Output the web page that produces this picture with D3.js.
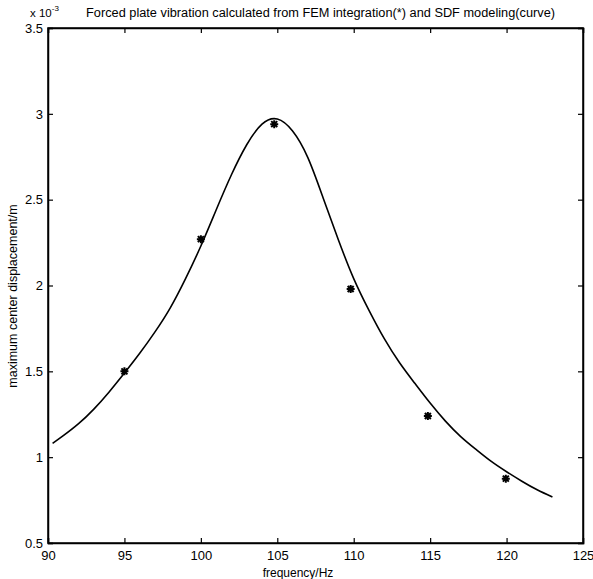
<!DOCTYPE html>
<html>
<head>
<meta charset="utf-8">
<script src="https://cdn.jsdelivr.net/npm/d3@7"></script>
<style>
  body { margin: 0; background: #fff; }
  svg { display: block; font-family: "Liberation Sans", Arial, sans-serif; }
</style>
</head>
<body>
<div id="chart"></div>
<script>
// FEM points (*), displacement in units of 1e-3 m
var femFreq = [95, 100, 104.8, 109.8, 114.85, 119.95];
var femDisp = [1.50, 2.27, 2.94, 1.98, 1.24, 0.875];

// SDF model curve
var curveFreq = [90.3, 91, 92, 93, 94, 95, 96, 97, 98, 99, 100, 101, 102, 103, 104,
                 105, 106, 107, 108, 109, 110, 111, 112, 113, 114, 115, 116, 117, 118,
                 119, 120, 121, 122, 123];
var curveDisp = [1.08, 1.125, 1.195, 1.28, 1.38, 1.49, 1.605, 1.73, 1.87, 2.04, 2.23,
                 2.44, 2.645, 2.82, 2.94, 2.97, 2.90, 2.745, 2.51, 2.265, 2.04, 1.855,
                 1.69, 1.55, 1.43, 1.315, 1.21, 1.12, 1.045, 0.975, 0.915, 0.86, 0.81, 0.768];

var xTicks = [90, 95, 100, 105, 110, 115, 120, 125];
var yTicks = [0.5, 1, 1.5, 2, 2.5, 3, 3.5];

var W = 593, H = 579;
var margin = {left: 48, right: 10, top: 28, bottom: 36};

var svg = d3.select("#chart").append("svg")
    .attr("width", W)
    .attr("height", H);

var x = d3.scaleLinear().domain([90, 125]).range([margin.left, W - margin.right]);
var y = d3.scaleLinear().domain([0.5, 3.5]).range([H - margin.bottom, margin.top]);

var x0 = x.range()[0], x1 = x.range()[1], y0 = y.range()[0], y1 = y.range()[1];

// ticks inward on all four sides, matlab style
svg.append("g").attr("transform", "translate(0," + y0 + ")")
    .call(d3.axisBottom(x).tickValues(xTicks).tickSize(-5).tickPadding(8).tickFormat(d3.format("d")));
svg.append("g").attr("transform", "translate(0," + y1 + ")")
    .call(d3.axisTop(x).tickValues(xTicks).tickSize(-5).tickFormat(""));
svg.append("g").attr("transform", "translate(" + x0 + ",0)")
    .call(d3.axisLeft(y).tickValues(yTicks).tickSize(-5).tickPadding(5).tickFormat(function(d) { return String(d); }));
svg.append("g").attr("transform", "translate(" + x1 + ",0)")
    .call(d3.axisRight(y).tickValues(yTicks).tickSize(-5).tickFormat(""));

svg.selectAll(".domain").attr("stroke", "#000").attr("stroke-width", 1.5);
svg.selectAll(".tick line").attr("stroke", "#000").attr("stroke-width", 1.2);
svg.selectAll(".tick text")
    .attr("fill", "#000")
    .style("font-size", "13px")
    .style("font-family", "Liberation Sans, Arial, sans-serif");

// box
svg.append("rect")
    .attr("x", x0).attr("y", y1)
    .attr("width", x1 - x0).attr("height", y0 - y1)
    .attr("fill", "none").attr("stroke", "#000").attr("stroke-width", 1.5);

// curve
var pts = curveFreq.map(function(f, i) { return [f, curveDisp[i]]; });
var line = d3.line()
    .x(function(d) { return x(d[0]); })
    .y(function(d) { return y(d[1]); })
    .curve(d3.curveNatural);

svg.append("path")
    .datum(pts)
    .attr("d", line)
    .attr("fill", "none")
    .attr("stroke", "#000")
    .attr("stroke-width", 1.6);

// star markers
var fem = femFreq.map(function(f, i) { return {f: f, v: femDisp[i]}; });
var star = svg.append("g").selectAll("g")
    .data(fem)
    .enter().append("g")
    .attr("transform", function(d) { return "translate(" + x(d.f) + "," + y(d.v) + ")"; });
star.append("path")
    .attr("d", "M-4,0H4M0,-4V4M-3,-3L3,3M-3,3L3,-3")
    .attr("stroke", "#000")
    .attr("stroke-width", 2);

// exponent label
var ex = svg.append("text")
    .attr("x", 30).attr("y", 17)
    .style("font-size", "11.5px")
    .attr("fill", "#000");
ex.append("tspan").text("x 10");
ex.append("tspan").attr("dy", -6).style("font-size", "8px").text("-3");

// title
svg.append("text")
    .attr("x", 86).attr("y", 17)
    .attr("textLength", 469)
    .attr("lengthAdjust", "spacingAndGlyphs")
    .style("font-size", "12px")
    .attr("fill", "#000")
    .text("Forced plate vibration calculated from FEM integration(*) and SDF modeling(curve)");

// axis labels
svg.append("text")
    .attr("x", 298).attr("y", 577)
    .attr("text-anchor", "middle")
    .style("font-size", "12px")
    .attr("fill", "#000")
    .text("frequency/Hz");

svg.append("text")
    .attr("transform", "translate(17," + 296 + ") rotate(-90)")
    .attr("text-anchor", "middle")
    .style("font-size", "12.5px")
    .attr("fill", "#000")
    .text("maximum center displacement/m");
</script>
</body>
</html>
